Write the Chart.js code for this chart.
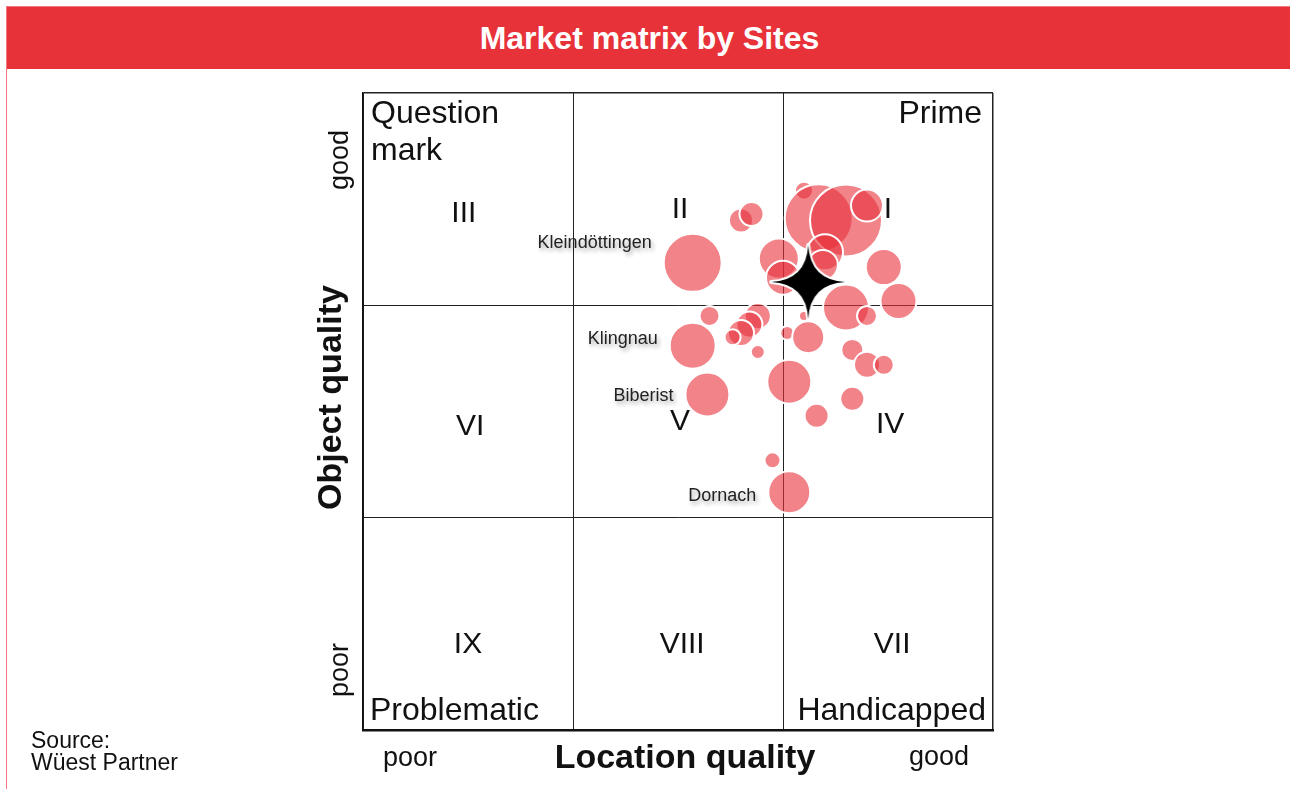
<!DOCTYPE html>
<html>
<head>
<meta charset="utf-8">
<script src="https://cdn.jsdelivr.net/npm/chart.js@4"></script>
<style>
  html, body { margin: 0; padding: 0; background: #fff; }
  body { width: 1290px; height: 789px; position: relative; overflow: hidden; font-family: "Liberation Sans", Arial, sans-serif; }
  #frame { position: absolute; left: 6px; top: 6px; width: 1290px; height: 790px; border-left: 1px solid #f07a7f; border-top: 1px solid #f07a7f; }
  #header { position: absolute; left: 7px; top: 7px; width: 1290px; height: 62px; background: #e8323a;
    color: #fff; font-weight: bold; font-size: 32px; line-height: 62px; text-align: center; text-indent: -5px; }
  canvas { position: absolute; left: 0; top: 0; }
</style>
</head>
<body>
<div id="frame"></div>
<div id="header">Market matrix by Sites</div>
<canvas id="myChart" width="1290" height="789"></canvas>
<script>
// sites: location quality (x, 0-3), object quality (y, 0-3), bubble size
const siteNames = [
  "Kleindöttingen", "", "", "", "", "", "", "", "", "",
  "", "", "", "", "", "", "", "", "", "",
  "", "", "", "", "", "", "", "", "", "",
  "", "Dornach", "Klingnau", "Biberist",
];
const siteX = [
  1.57, 1.80, 1.85, 2.10, 2.17, 2.30, 2.40, 1.98, 2.20, 2.19,
  2.00, 2.48, 2.55, 2.30, 2.40, 1.65, 1.88, 1.84, 1.80, 1.76,
  1.88, 2.02, 2.10, 2.12, 2.33, 2.40, 2.48, 2.03, 2.33, 2.16,
  1.95, 2.03, 1.57, 1.64,
];
const siteY = [
  2.20, 2.40, 2.43, 2.54, 2.41, 2.40, 2.47, 2.22, 2.25, 2.19,
  2.13, 2.18, 2.02, 1.99, 1.95, 1.95, 1.95, 1.91, 1.87, 1.85,
  1.78, 1.87, 1.95, 1.85, 1.79, 1.72, 1.72, 1.64, 1.56, 1.48,
  1.27, 1.12, 1.81, 1.58,
];
const siteSize = [
  29, 12, 12, 9, 34, 36, 16, 20, 18, 15,
  17, 18, 18, 23, 10, 10, 13, 13, 13, 8,
  7, 7, 5, 16, 11, 13, 10, 22, 12, 12,
  8, 21, 23, 22,
];

// average marker
const averageX = [2.12];
const averageY = [2.11];

// quadrant numbering
const quadrantNames = ["III", "II", "I", "VI", "V", "IV", "IX", "VIII", "VII"];
const quadrantX = [0.48, 1.51, 2.50, 0.51, 1.51, 2.51, 0.50, 1.52, 2.52];
const quadrantY = [2.43, 2.45, 2.45, 1.43, 1.45, 1.44, 0.40, 0.40, 0.40];

const ctx = document.getElementById("myChart").getContext("2d");
const FONT = '"Liberation Sans", Arial, sans-serif';

// four point star for the average, concave sides
const makeStar = () => {
  const c = document.createElement("canvas");
  c.width = 84;
  c.height = 84;
  const g = c.getContext("2d");
  const arm = 37, pull = 2;
  const tips = [[0, -arm], [arm, 0], [0, arm], [-arm, 0]];
  g.beginPath();
  g.moveTo(42 + tips[0][0], 42 + tips[0][1]);
  for (let i = 1; i <= 4; i++) {
    const [px, py] = tips[(i - 1) % 4];
    const [tx, ty] = tips[i % 4];
    const cx = Math.sign(px + tx) * pull, cy = Math.sign(py + ty) * pull;
    g.quadraticCurveTo(42 + cx, 42 + cy, 42 + tx, 42 + ty);
  }
  g.closePath();
  g.lineJoin = "round";
  g.lineWidth = 4;
  g.strokeStyle = "#fff";
  g.stroke();
  g.fillStyle = "#000";
  g.fill();
  return c;
};

const text = (c, str, x, y, font, align = "center", rot = 0) => {
  c.save();
  c.translate(x, y);
  c.rotate(rot);
  c.font = font;
  c.fillStyle = "#111";
  c.textAlign = align;
  c.textBaseline = "middle";
  c.fillText(str, 0, 0);
  c.restore();
};

const matrixText = {
  id: "matrixText",
  beforeDatasetsDraw(chart) {
    const { ctx: c, scales } = chart;
    quadrantNames.forEach((n, i) => {
      text(c, n, scales.x.getPixelForValue(quadrantX[i]), scales.y.getPixelForValue(quadrantY[i]), `30px ${FONT}`);
    });
  },
  afterDraw(chart) {
    const c = chart.ctx;
    const { left, right, top, bottom } = chart.chartArea;
    const mid = (top + bottom) / 2;
    // corner names
    text(c, "Question", left + 8, top + 21, `32px ${FONT}`, "left");
    text(c, "mark", left + 8, top + 58, `32px ${FONT}`, "left");
    text(c, "Prime", right - 11, top + 21, `32px ${FONT}`, "right");
    text(c, "Problematic", left + 7, bottom - 19, `32px ${FONT}`, "left");
    text(c, "Handicapped", right - 7, bottom - 19, `32px ${FONT}`, "right");
    // axes
    text(c, "poor", left + 47, bottom + 29, `27px ${FONT}`);
    text(c, "Location quality", (left + right) / 2 + 7, bottom + 29, `bold 34px ${FONT}`);
    text(c, "good", right - 54, bottom + 28, `27px ${FONT}`);
    text(c, "good", left - 22, top + 67, `27px ${FONT}`, "center", -Math.PI / 2);
    text(c, "poor", left - 22, bottom - 60, `27px ${FONT}`, "center", -Math.PI / 2);
    text(c, "Object quality", left - 31, mid - 14, `bold 34px ${FONT}`, "center", -Math.PI / 2);
    // source
    text(c, "Source:", 31, 742, `23px ${FONT}`, "left");
    text(c, "Wüest Partner", 31, 764, `23px ${FONT}`, "left");
  },
};

// labels next to selected sites
const labelShift = { "Kleindöttingen": -20, "Klingnau": -7, "Biberist": 2, "Dornach": 4 };
const siteLabels = {
  id: "siteLabels",
  afterDatasetsDraw(chart) {
    const c = chart.ctx;
    const meta = chart.getDatasetMeta(0);
    meta.data.forEach((el, i) => {
      const name = siteNames[i];
      if (!name) return;
      c.save();
      c.font = `18px ${FONT}`;
      c.fillStyle = "#222";
      c.textAlign = "right";
      c.textBaseline = "middle";
      c.shadowColor = "rgba(0,0,0,0.35)";
      c.shadowBlur = 4;
      c.shadowOffsetX = 2;
      c.shadowOffsetY = 3;
      c.fillText(name, el.x - siteSize[i] - 12, el.y + labelShift[name]);
      c.restore();
    });
  },
};

const edge = (w) => (c) => (c.tick && c.tick.value === 3 ? w : 1);

const myChart = new Chart(ctx, {
  type: "bubble",
  data: {
    datasets: [
      {
        label: "Sites",
        data: siteX.map((x, i) => ({ x, y: siteY[i], r: siteSize[i] })),
        backgroundColor: "rgba(231, 48, 58, 0.6)",
        borderColor: "#ffffff",
        borderWidth: 2,
        order: 2,
      },
      {
        label: "Average",
        data: averageX.map((x, i) => ({ x, y: averageY[i], r: 37 })),
        pointStyle: makeStar(),
        order: 1,
      },
    ],
  },
  options: {
    responsive: false,
    devicePixelRatio: 1,
    animation: false,
    layout: { padding: { left: 363, top: 93, right: 297, bottom: 59 } },
    plugins: {
      legend: { display: false },
      tooltip: { enabled: false },
    },
    scales: {
      x: {
        min: 0,
        max: 3,
        ticks: { display: false, stepSize: 1 },
        grid: { drawTicks: false, color: "#222", lineWidth: edge(1.5) },
        border: { display: true, color: "#111", width: 2.5 },
      },
      y: {
        min: 0,
        max: 3,
        ticks: { display: false, stepSize: 1 },
        grid: { drawTicks: false, color: "#222", lineWidth: edge(1.5) },
        border: { display: true, color: "#111", width: 1.5 },
      },
    },
  },
  plugins: [matrixText, siteLabels],
});
</script>
</body>
</html>
